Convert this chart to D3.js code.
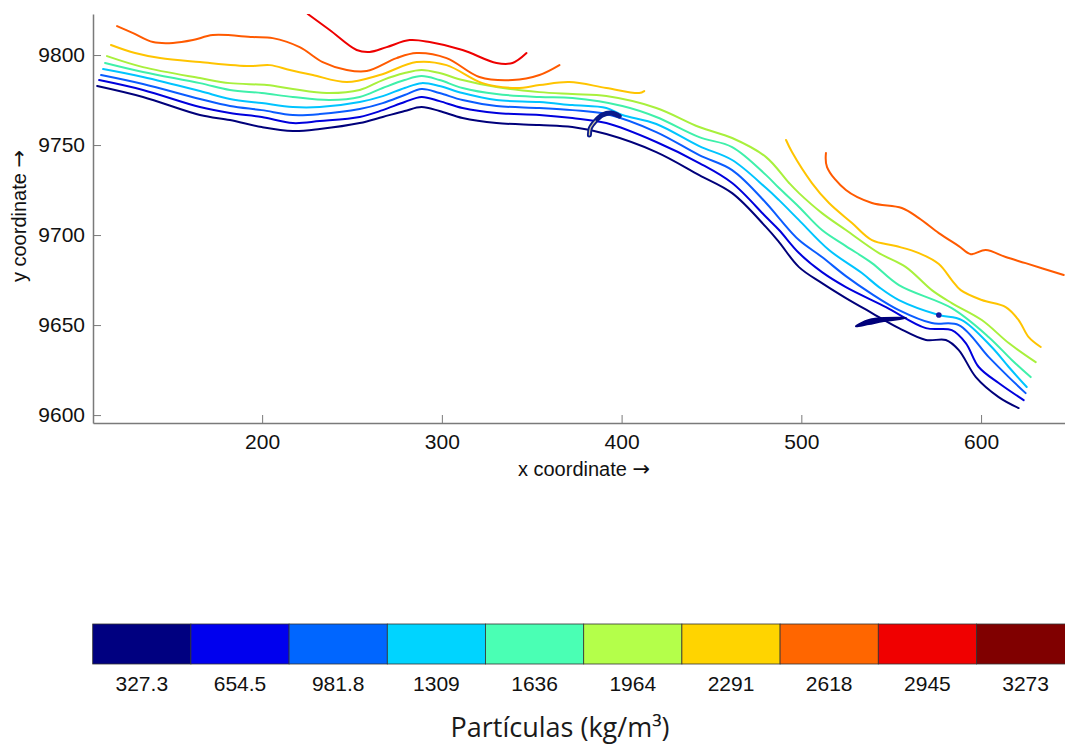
<!DOCTYPE html>
<html>
<head>
<meta charset="utf-8">
<script src="https://cdn.jsdelivr.net/npm/d3@7"></script>
<style>
  html, body { margin: 0; padding: 0; background: #fff; }
  svg { display: block; }
  .tick text { font-family: "Liberation Sans", Arial, sans-serif; }
</style>
</head>
<body>
<svg id="chart" width="1065" height="744"></svg>
<script>
// Contour levels of particle concentration (kg/m³) and their colours
const levels = [327.3, 654.5, 981.8, 1309, 1636, 1964, 2291, 2618, 2945, 3273];
const levelLabels = ["327.3", "654.5", "981.8", "1309", "1636", "1964", "2291", "2618", "2945", "3273"];
const levelColors = ["#000080", "#0000ee", "#0066ff", "#00d4ff", "#4affb4",
                     "#b4ff4a", "#ffd400", "#ff6600", "#f00000", "#800000"];
const lineColors  = ["#00007a", "#0000dd", "#0a5cff", "#00c4ff", "#3ff0aa",
                     "#a8f03c", "#ffc400", "#ff5a00", "#ee0000", "#800000"];

const xTicks = [200, 300, 400, 500, 600];
const yTicks = [9600, 9650, 9700, 9750, 9800];

// Contour polylines, [x, y] in model coordinates
const c327 = [[108.2,9782.8],[133.7,9776.7],[165.4,9766.7],[182.1,9763.9],[199.8,9760.0],
  [217.1,9757.8],[232.1,9758.9],[254.3,9762.2],[267.1,9765.6],[279.3,9768.9],[288.7,9771.1],
  [298.7,9768.9],[311.5,9765.0],[330.4,9762.2],[354.3,9761.1],[372.6,9760.0],[391.5,9756.1],
  [419.3,9746.1],[443.2,9733.3],[461.5,9723.3],[480.4,9704.4],[487.6,9696.1],[498.7,9682.2],
  [511.5,9673.3],[524.8,9665.0],[539.3,9656.7],[554.3,9648.3],[569.3,9641.7],[580.4,9641.7],
  [587.6,9636.1],[597.1,9621.1],[609.8,9610.0],[620.9,9603.9]];
const c654 = [[109.3,9786.1],[133.7,9780.6],[165.4,9771.1],[182.1,9767.8],[199.8,9765.6],
  [217.1,9762.2],[232.1,9763.3],[254.3,9765.6],[267.1,9769.4],[279.3,9773.9],[288.7,9776.7],
  [298.7,9774.4],[311.5,9770.6],[330.4,9767.8],[354.3,9766.7],[372.6,9765.0],[391.5,9762.2],
  [419.3,9751.7],[443.2,9740.0],[461.5,9728.9],[480.4,9710.0],[487.6,9702.8],[498.7,9690.0],
  [511.5,9679.4],[524.8,9671.1],[547.1,9660.0],[569.3,9648.3],[583.7,9647.2],[591.5,9640.0],
  [598.7,9626.7],[609.8,9617.8],[623.7,9608.3]];
const c981 = [[110.4,9788.9],[133.7,9783.9],[165.4,9775.6],[182.1,9771.7],[199.8,9769.4],
  [217.1,9766.7],[232.1,9767.2],[254.3,9770.0],[267.1,9773.3],[279.3,9777.8],[288.7,9781.1],
  [298.7,9778.9],[311.5,9775.0],[330.4,9771.7],[354.3,9770.6],[372.6,9769.4],[391.5,9767.2],
  [419.3,9757.2],[443.2,9744.4],[461.5,9736.1],[480.4,9717.8],[487.6,9709.4],[498.7,9697.2],
  [511.5,9687.8],[524.8,9677.2],[539.3,9667.2],[554.3,9658.3],[572.6,9651.1],[587.6,9650.0],
  [604.3,9632.2],[615.4,9621.1],[624.8,9612.2]];
const c1309 = [[111.5,9792.2],[133.7,9787.8],[165.4,9780.0],[182.1,9775.6],[199.8,9773.3],
  [217.1,9771.1],[232.1,9771.1],[254.3,9773.9],[267.1,9777.2],[279.3,9781.7],[288.7,9784.4],
  [298.7,9782.8],[311.5,9778.9],[330.4,9775.0],[354.3,9773.9],[372.6,9772.2],[391.5,9770.6],
  [400.4,9766.7],[419.3,9761.7],[443.2,9749.4],[461.5,9741.7],[480.4,9726.1],[487.6,9719.4],
  [498.7,9708.3],[515.4,9691.7],[533.7,9678.9],[543.2,9671.1],[554.3,9663.9],[576.5,9655.6],
  [589.3,9652.8],[605.9,9637.8],[615.4,9626.7],[625.4,9615.6]];
const c1636 = [[112.6,9795.6],[133.7,9790.6],[165.4,9784.4],[182.1,9780.6],[199.8,9778.9],
  [217.1,9776.7],[237.6,9775.0],[254.3,9776.7],[267.1,9781.7],[279.3,9786.1],[288.7,9788.3],
  [298.7,9786.1],[311.5,9781.7],[330.4,9778.3],[354.3,9776.7],[372.6,9776.1],[400.4,9771.7],
  [419.3,9765.6],[443.2,9754.4],[461.5,9748.9],[480.4,9733.3],[487.6,9726.1],[498.7,9715.6],
  [511.5,9702.8],[524.8,9693.9],[539.3,9684.4],[554.3,9672.2],[583.7,9659.4],[604.3,9643.3],
  [617.1,9630.6],[627.6,9621.1]];
const c1964 = [[113.7,9799.4],[133.7,9793.3],[165.4,9787.2],[182.1,9784.4],[202.6,9783.3],
  [217.1,9781.1],[235.9,9778.9],[254.3,9780.6],[267.1,9786.1],[279.3,9790.0],[288.7,9791.7],
  [298.7,9790.0],[311.5,9786.1],[330.4,9782.2],[354.3,9779.4],[372.6,9778.3],[391.5,9777.2],
  [419.3,9770.6],[443.2,9760.0],[461.5,9753.9],[480.4,9743.3],[493.2,9728.9],[498.7,9723.3],
  [511.5,9712.2],[524.8,9702.8],[543.2,9690.0],[558.2,9682.2],[572.6,9669.4],[583.7,9662.2],
  [600.4,9652.8],[615.4,9640.0],[630.4,9629.4]];
const c2291a = [[115.9,9805.6],[129.3,9801.1],[143.2,9798.3],[165.4,9796.1],[193.2,9793.9],
  [204.3,9794.4],[215.4,9791.7],[228.2,9788.9],[247.1,9785.0],[265.4,9788.9],[285.9,9796.1],
  [302.6,9794.4],[322.6,9784.4],[341.5,9781.7],[354.3,9783.3],[370.9,9785.0],[391.5,9781.7],
  [409.8,9778.9],[412.6,9780.0]];
const c2291b = [[491.5,9752.8],[494.8,9746.1],[505.9,9728.9],[515.4,9717.8],[528.2,9706.7],
  [539.3,9697.2],[552.6,9693.9],[565.4,9690.0],[576.5,9683.9],[583.7,9675.0],[588.7,9669.4],
  [600.4,9663.9],[613.7,9660.0],[620.9,9652.8],[626.5,9643.3],[633.2,9637.8]];
const c2618a = [[119.3,9816.1],[128.2,9812.2],[139.3,9807.2],[150.4,9806.7],[161.5,9808.3],
  [172.6,9811.1],[194.8,9810.0],[205.9,9809.4],[220.9,9804.4],[233.7,9796.1],[247.1,9791.7],
  [258.2,9791.1],[274.8,9798.3],[285.9,9801.1],[302.6,9798.3],[320.9,9787.8],[339.3,9786.1],
  [354.3,9788.9],[365.4,9794.4]];
const c2618b = [[513.7,9745.6],[514.3,9737.8],[524.8,9725.0],[539.3,9717.8],[555.9,9715.0],
  [565.4,9709.4],[576.5,9701.1],[587.6,9693.9],[594.3,9689.4],[602.6,9691.7],[613.7,9687.8],
  [624.8,9684.4],[646.0,9677.8]];
const c2945 = [[225.4,9822.8],[237.6,9813.9],[252.6,9802.8],[259.8,9801.7],[269.3,9804.4],
  [282.1,9808.3],[293.2,9807.2],[311.5,9802.8],[330.4,9795.6],[339.3,9795.6],[347.1,9801.1]];

// Small closed contours of the lowest level
const hook = [[382.1,9755.6],[382.6,9759.4],[385.4,9763.3],[389.3,9766.7],[394.3,9767.8],[398.7,9766.1]];
const lens = [[530.4,9649.4],[537.6,9652.8],[545.9,9653.9],[558.2,9653.9],[545.9,9652.2],[537.6,9650.6]];
const spot = [576.5, 9655.6];

const contours = [
  {pts: c327,  lvl: 0}, {pts: c654,  lvl: 1}, {pts: c981,  lvl: 2}, {pts: c1309, lvl: 3},
  {pts: c1636, lvl: 4}, {pts: c1964, lvl: 5}, {pts: c2291a, lvl: 6}, {pts: c2291b, lvl: 6},
  {pts: c2618a, lvl: 7}, {pts: c2618b, lvl: 7}, {pts: c2945, lvl: 8}
];

const svg = d3.select("#chart");
const plot = {left: 93, right: 1065, top: 14, bottom: 423};

const x = d3.scaleLinear().domain([105.9, 646.7]).range([plot.left, plot.right]);
const y = d3.scaleLinear().domain([9595.6, 9822.8]).range([plot.bottom, plot.top]);

svg.append("defs").append("clipPath").attr("id", "plotClip")
  .append("rect").attr("x", plot.left).attr("y", plot.top)
  .attr("width", plot.right - plot.left).attr("height", plot.bottom - plot.top);

const line = d3.line().x(d => x(d[0])).y(d => y(d[1])).curve(d3.curveCatmullRom.alpha(0.5));

const g = svg.append("g").attr("clip-path", "url(#plotClip)");
g.selectAll("path.contour").data(contours).join("path")
  .attr("class", "contour")
  .attr("d", d => line(d.pts))
  .attr("fill", "none")
  .attr("stroke", d => lineColors[d.lvl])
  .attr("stroke-width", 2)
  .attr("stroke-linecap", "round")
  .attr("stroke-linejoin", "round");

// tiny islands of the lowest level
g.append("path").attr("d", line(hook)).attr("fill", "none")
  .attr("stroke", "#0a1a8a").attr("stroke-width", 5).attr("stroke-linecap", "round");
g.append("path").attr("d", line(hook.slice(0, 3))).attr("fill", "none")
  .attr("stroke", "#cfc6a0").attr("stroke-width", 1.3).attr("stroke-linecap", "round");
g.append("path").attr("d", d3.line().x(d => x(d[0])).y(d => y(d[1])).curve(d3.curveCardinalClosed)(lens))
  .attr("fill", lineColors[0]).attr("stroke", lineColors[0]).attr("stroke-width", 2);
g.append("circle").attr("cx", x(spot[0])).attr("cy", y(spot[1])).attr("r", 2.8)
  .attr("fill", "#1a1aa0");

// Axes
const axisColor = "#7a7a7a";
const font = '"Liberation Sans", Arial, sans-serif';

const yAxis = svg.append("g").attr("transform", `translate(${plot.left},0)`)
  .call(d3.axisLeft(y).tickValues(yTicks).tickFormat(d3.format("d")).tickSizeInner(-8).tickSizeOuter(0).tickPadding(8));
const xAxis = svg.append("g").attr("transform", `translate(0,${plot.bottom})`)
  .call(d3.axisBottom(x).tickValues(xTicks).tickFormat(d3.format("d")).tickSizeInner(-8).tickSizeOuter(0).tickPadding(11));

[xAxis, yAxis].forEach(a => {
  a.select(".domain").attr("stroke", axisColor).attr("stroke-width", 1.5);
  a.selectAll(".tick line").attr("stroke", axisColor).attr("stroke-width", 1);
  a.selectAll(".tick text").attr("fill", "#111").style("font-size", "21px").style("font-family", font);
});

function axisTitle(sel, label) {
  sel.attr("text-anchor", "middle").style("font-family", font).style("font-size", "20px").attr("fill", "#111");
  sel.append("tspan").text(label + " ");
  sel.append("tspan").style("font-family", '"DejaVu Sans", sans-serif').style("font-size", "21px").text("→");
}
axisTitle(svg.append("text").attr("x", 584).attr("y", 476), "x coordinate");
axisTitle(svg.append("text").attr("transform", "translate(26,216) rotate(-90)"), "y coordinate");

// Colour bar
const cb = d3.scaleBand().domain(levels).range([92.7, 1074.7]).paddingInner(0).paddingOuter(0);
const cbTop = 624, cbH = 40;
svg.append("g").selectAll("rect").data(levels).join("rect")
  .attr("x", d => cb(d)).attr("y", cbTop)
  .attr("width", cb.bandwidth()).attr("height", cbH)
  .attr("fill", (d, i) => levelColors[i])
  .attr("stroke", "#333").attr("stroke-width", 0.8);
svg.append("g").selectAll("text").data(levels).join("text")
  .attr("x", d => cb(d) + cb.bandwidth() / 2).attr("y", 691)
  .attr("text-anchor", "middle")
  .style("font-family", font).style("font-size", "21px").attr("fill", "#111")
  .text((d, i) => levelLabels[i]);

svg.append("text").attr("x", 560).attr("y", 737).attr("text-anchor", "middle")
  .style("font-family", '"Open Sans", "Noto Sans", sans-serif').style("font-size", "27px").attr("fill", "#1a1a1a")
  .text("Partículas (kg/m³)");
</script>
</body>
</html>
